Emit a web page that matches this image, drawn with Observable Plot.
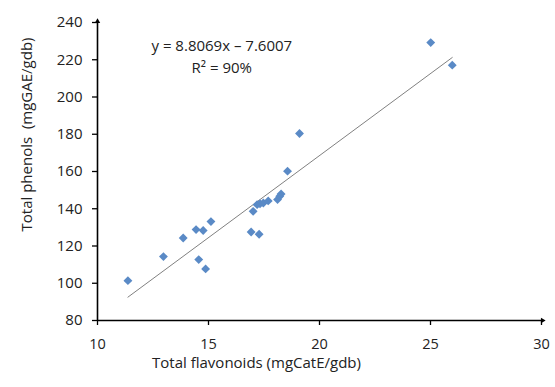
<!DOCTYPE html>
<html>
<head>
<meta charset="utf-8">
<script src="https://cdn.jsdelivr.net/npm/d3@7"></script>
<script src="https://cdn.jsdelivr.net/npm/@observablehq/plot@0.6"></script>
<style>
  html, body { margin: 0; padding: 0; background: #fff; }
  #chart { width: 555px; height: 387px; }
</style>
</head>
<body>
<div id="chart"></div>
<script>
// Data
const flavonoids = [11.37, 12.97, 13.86, 14.44, 14.76, 15.11, 14.56, 14.87, 16.92, 17.28, 17.01, 17.19, 17.32, 17.47, 17.69, 18.11, 18.21, 18.27, 18.56, 19.10, 25.01, 25.98];
const phenols    = [101.4, 114.3, 124.3, 128.8, 128.3, 133.1, 112.7, 107.7, 127.5, 126.3, 138.6, 142.2, 142.7, 143.1, 144.2, 144.9, 146.7, 147.9, 160.2, 180.4, 229.2, 217.1];
const xTicks = [10, 15, 20, 25, 30];
const yTicks = [80, 100, 120, 140, 160, 180, 200, 220, 240];
const slope = 8.8069;
const intercept = -7.6007;
const equationLines = ["y = 8.8069x – 7.6007", "R² = 90%"];
const xLabel = "Total flavonoids (mgCatE/gdb)";
const yLabel = "Total phenols  (mgGAE/gdb)";

const points = flavonoids.map((f, i) => ({x: f, y: phenols[i]}));
const xExt = d3.extent(flavonoids);
const trend = xExt.map(x => ({x, y: slope * x + intercept}));
const xDom = [xTicks[0], xTicks[xTicks.length - 1]];
const yDom = [yTicks[0], yTicks[yTicks.length - 1]];
const annot = [
  {x: 15.6, y: 227.2, text: equationLines[0]},
  {x: 15.6, y: 215.4, text: equationLines[1]}
];

const font = "'Open Sans', sans-serif";
const ink = "#222";

const chart = Plot.plot({
  width: 555,
  height: 387,
  marginLeft: 97,
  marginRight: 14,
  marginTop: 22,
  marginBottom: 67,
  style: {fontFamily: font, fontSize: "15px", color: ink, background: "#fff", overflow: "visible"},
  x: {domain: xDom},
  y: {domain: yDom},
  marks: [
    Plot.axisX({ticks: xTicks, tickSize: 5, tickPadding: 13, label: null, stroke: "#000", strokeWidth: 1.3, fill: ink, fontSize: 14.5}),
    Plot.axisY({ticks: yTicks, tickSize: 5, tickPadding: 10, label: null, stroke: "#000", strokeWidth: 1.3, fill: ink, fontSize: 15}),
    Plot.ruleX([xDom[0]], {y1: yDom[0], y2: yDom[1], stroke: "#000", strokeWidth: 1.6}),
    Plot.ruleY([yDom[0]], {x1: xDom[0], x2: xDom[1], stroke: "#000", strokeWidth: 1.6}),
    Plot.dot([{x: xDom[0], y: yDom[1]}], {x: "x", y: "y", symbol: "triangle2", r: 2.6, fill: "#000", stroke: null, dy: -1}),
    Plot.dot([{x: xDom[1], y: yDom[0]}], {x: "x", y: "y", symbol: "triangle2", r: 2.6, fill: "#000", stroke: null, rotate: 90, dx: 1}),
    Plot.line(trend, {x: "x", y: "y", stroke: "#808080", strokeWidth: 1}),
    Plot.dot(points, {x: "x", y: "y", symbol: "diamond2", r: 4, fill: "#5A8AC6", stroke: null}),
    Plot.text(annot, {x: "x", y: "y", text: "text", fontSize: 15, fill: ink, fontFamily: font}),
    Plot.text([xLabel], {frameAnchor: "bottom", textAnchor: "middle", lineAnchor: "middle", dx: -63, dy: 43, fontSize: 15, fill: ink, fontFamily: font}),
    Plot.text([yLabel], {frameAnchor: "left", textAnchor: "middle", lineAnchor: "middle", dx: -70, dy: -37, rotate: -90, fontSize: 15, fill: ink, fontFamily: font})
  ]
});
document.getElementById("chart").appendChild(chart);
</script>
</body>
</html>
